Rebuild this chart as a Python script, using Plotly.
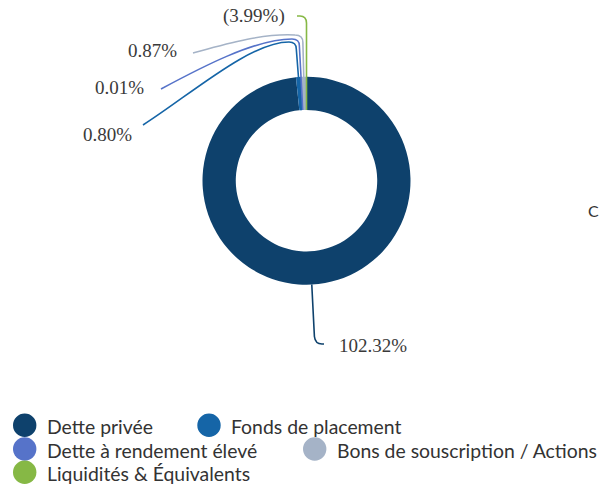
import math
import plotly.graph_objects as go

# ---------------- data ----------------
categories = ["Dette privée", "Fonds de placement", "Dette à rendement élevé",
              "Bons de souscription / Actions", "Liquidités & Équivalents"]
values = [102.32, 0.80, 0.01, 0.87, -3.99]
colors = ["#0e416c", "#1565a7", "#5673c9", "#a5b3c7", "#86b845"]

# ---------------- layout constants (pixels) ----------------
W, H = 600, 487
CX, CY, R = 306.5, 180.7, 104.0
HOLE = 0.68
LABEL_COLOR = "#3a3a3a"

def fx(x):
    return x / W

def fy(y):
    return 1 - y / H

def fmt(v):
    return f"({abs(v):.2f}%)" if v < 0 else f"{v:.2f}%"

pie_vals = [max(v, 0) for v in values]
total = sum(pie_vals)

fig = go.Figure(go.Pie(
    labels=categories, values=pie_vals, hole=HOLE, sort=False,
    direction="clockwise", rotation=0,
    marker=dict(colors=colors, line=dict(width=0)),
    textinfo="none", hoverinfo="none", showlegend=False,
    domain=dict(x=[fx(CX - R), fx(CX + R)], y=[fy(CY + R), fy(CY - R)]),
))

# mid angles (degrees clockwise from top)
mids = []
cum = 0.0
for v in pie_vals:
    mids.append((cum + v / 2) / total * 360.0)
    cum += v

def polar(r, ang):
    a = math.radians(ang)
    return CX + r * math.sin(a), CY - r * math.cos(a)

# connector tails: radial stop (y for top slices / radius for bottom), then path
conn = [
    dict(start_r=R, stop_r=R + 52, tail=[("Q", [(315.2, 344), (322, 344)]), ("L", [(324, 344)])],
         label=(336.5, 345, "left")),
    dict(start_r=R * HOLE, stop_y=49, tail=[("Q", [(296.3, 42), (289, 42)]),
                                            ("C", [(250, 42), (190, 95), (143, 125)])],
         label=(133.5, 135, "right")),
    dict(start_r=R * HOLE, stop_y=46, tail=[("Q", [(299.5, 39), (292, 39)]),
                                            ("C", [(255, 39), (200, 68), (161, 89)])],
         label=(145.5, 87, "right")),
    dict(start_r=R * HOLE, stop_y=43, tail=[("Q", [(303.2, 35), (295, 35)]),
                                            ("C", [(262, 33), (222, 45), (193, 53)])],
         label=(178.5, 50.5, "right")),
    dict(start_r=R * HOLE, stop_y=23, tail=[("Q", [(306.3, 16), (300, 16)]), ("L", [(297, 16)])],
         label=(287, 16, "right")),
]

shapes = []
annotations = []
for i, c in enumerate(conn):
    ang = mids[i]
    x0, y0 = polar(c["start_r"], ang)
    if "stop_y" in c:
        r1 = (CY - c["stop_y"]) / math.cos(math.radians(ang))
    else:
        r1 = c["stop_r"]
    x1, y1 = polar(r1, ang)
    path = f"M {fx(x0)},{fy(y0)} L {fx(x1)},{fy(y1)}"
    for cmd, pts in c["tail"]:
        path += f" {cmd} " + " ".join(f"{fx(px)},{fy(py)}" for px, py in pts)
    shapes.append(dict(type="path", path=path, xref="paper", yref="paper",
                       line=dict(color=colors[i], width=1.6), layer="above"))
    lx, ly, anc = c["label"]
    annotations.append(dict(x=fx(lx), y=fy(ly), xref="paper", yref="paper",
                            text=fmt(values[i]), showarrow=False, xanchor=anc,
                            yanchor="middle",
                            font=dict(family="Liberation Serif", size=19, color=LABEL_COLOR)))

# custom legend (circle markers)
legend_pos = [(24.7, 425.3), (209, 425.3), (24.7, 449), (314.7, 449), (24.7, 472.3)]
LR = 11.7
for i, (lx, ly) in enumerate(legend_pos):
    shapes.append(dict(type="circle", xref="paper", yref="paper",
                       x0=fx(lx - LR), x1=fx(lx + LR), y0=fy(ly + LR), y1=fy(ly - LR),
                       fillcolor=colors[i], line=dict(width=0)))
    annotations.append(dict(x=fx(lx + 20), y=fy(ly + 1.5), xref="paper", yref="paper",
                            text=categories[i], showarrow=False, xanchor="left",
                            yanchor="middle",
                            font=dict(family="Lato", size=19.4, color="#333333")))

# truncated text at right edge
annotations.append(dict(x=fx(585.5), y=fy(210), xref="paper", yref="paper", text="C",
                        showarrow=False, xanchor="left", yanchor="middle",
                        font=dict(family="Lato", size=16, color="#333333")))

fig.update_layout(
    width=W, height=H, autosize=False,
    margin=dict(l=0, r=0, t=0, b=0),
    paper_bgcolor="white", plot_bgcolor="white",
    shapes=shapes, annotations=annotations, showlegend=False,
)

fig.write_html("out.html")
